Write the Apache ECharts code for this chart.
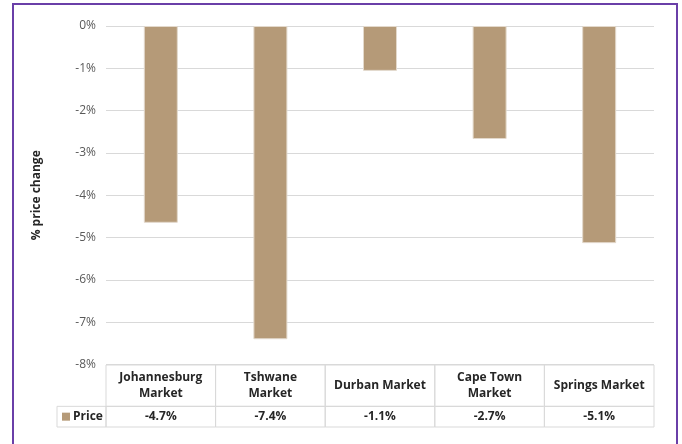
<!DOCTYPE html>
<html><head><meta charset="utf-8">
<script src="https://cdn.jsdelivr.net/npm/echarts@6/dist/echarts.min.js"></script>
<style>html,body{margin:0;padding:0;background:#fff}#c{width:682px;height:444px}</style>
</head><body><div id="c"></div>
<script>
const categories = ['Johannesburg\nMarket', 'Tshwane\nMarket', 'Durban Market', 'Cape Town\nMarket', 'Springs Market'];
const priceChange = [-4.65, -7.40, -1.06, -2.67, -5.13];
const yTicks = [-8, -7, -6, -5, -4, -3, -2, -1, 0];
const seriesName = 'Price';
const barColor = '#b59a78';
const FONT = 'Open Sans';

const chart = echarts.init(document.getElementById('c'));
const tableData = categories.map((c, i) => [i, priceChange[i]]);

chart.setOption({
  animation: false,
  textStyle: { fontFamily: FONT },
  graphic: [{
    type: 'rect', shape: { x: 13, y: 4, width: 664, height: 470 },
    style: { fill: 'none', stroke: '#6a3fa8', lineWidth: 2 }, silent: true
  }],
  grid: [
    { left: 106, right: 28, top: 26, height: 338.6 },
    { left: 106, right: 28, top: 365, height: 62 }
  ],
  xAxis: [
    { type: 'category', gridIndex: 0, data: categories, axisLine: { show: false }, axisTick: { show: false }, axisLabel: { show: false } },
    { type: 'category', gridIndex: 1, data: categories, show: false }
  ],
  yAxis: [
    {
      type: 'value', gridIndex: 0, min: yTicks[0], max: yTicks[yTicks.length - 1], interval: 1,
      axisLine: { show: false }, axisTick: { show: false },
      axisLabel: { formatter: v => v + '%', color: '#595959', fontSize: 12, margin: 10, fontFamily: FONT },
      splitLine: { lineStyle: { color: '#d9d9d9', width: 1 } },
      name: '% price change', nameLocation: 'middle', nameRotate: 90, nameGap: 63,
      nameTextStyle: { fontWeight: 'bold', fontSize: 12, color: '#262626', fontFamily: FONT }
    },
    { type: 'value', gridIndex: 1, min: 0, max: 3, show: false }
  ],
  series: [
    {
      type: 'bar', name: seriesName, data: priceChange, barWidth: 34,
      itemStyle: { color: barColor, borderColor: '#e3d9cc', borderWidth: 1 }
    },
    {
      type: 'custom', xAxisIndex: 1, yAxisIndex: 1, data: tableData, silent: true,
      renderItem: function (params, api) {
        const idx = api.value(0);
        const w = api.size([1, 0])[0];
        const c3 = api.coord([idx, 3]);
        const c1 = api.coord([idx, 1]);
        const c0 = api.coord([idx, 0]);
        const x0 = c3[0] - w / 2;
        const line = { fill: 'none', stroke: '#d9d9d9', lineWidth: 1 };
        const children = [
          { type: 'rect', shape: { x: x0, y: c3[1], width: w, height: c1[1] - c3[1] }, style: line },
          { type: 'rect', shape: { x: x0, y: c1[1], width: w, height: c0[1] - c1[1] }, style: line },
          { type: 'text', style: { x: c3[0], y: (c3[1] + c1[1]) / 2, text: categories[idx], align: 'center', verticalAlign: 'middle',
              font: 'bold 12px "' + FONT + '"', fill: '#262626', lineHeight: 16 } },
          { type: 'text', style: { x: c3[0], y: (c1[1] + c0[1]) / 2, text: api.value(1).toFixed(1) + '%', align: 'center', verticalAlign: 'middle',
              font: 'bold 12px "' + FONT + '"', fill: '#262626' } }
        ];
        if (idx === 0) {
          const lw = 49;
          children.push(
            { type: 'rect', shape: { x: x0 - lw, y: c1[1], width: lw, height: c0[1] - c1[1] }, style: line },
            { type: 'rect', shape: { x: x0 - lw + 5, y: (c1[1] + c0[1]) / 2 - 4, width: 8, height: 8 }, style: { fill: barColor } },
            { type: 'text', style: { x: x0 - lw + 16, y: (c1[1] + c0[1]) / 2, text: seriesName, align: 'left', verticalAlign: 'middle',
                font: 'bold 12px "' + FONT + '"', fill: '#262626' } }
          );
        }
        return { type: 'group', children: children };
      }
    }
  ]
});
</script></body></html>
